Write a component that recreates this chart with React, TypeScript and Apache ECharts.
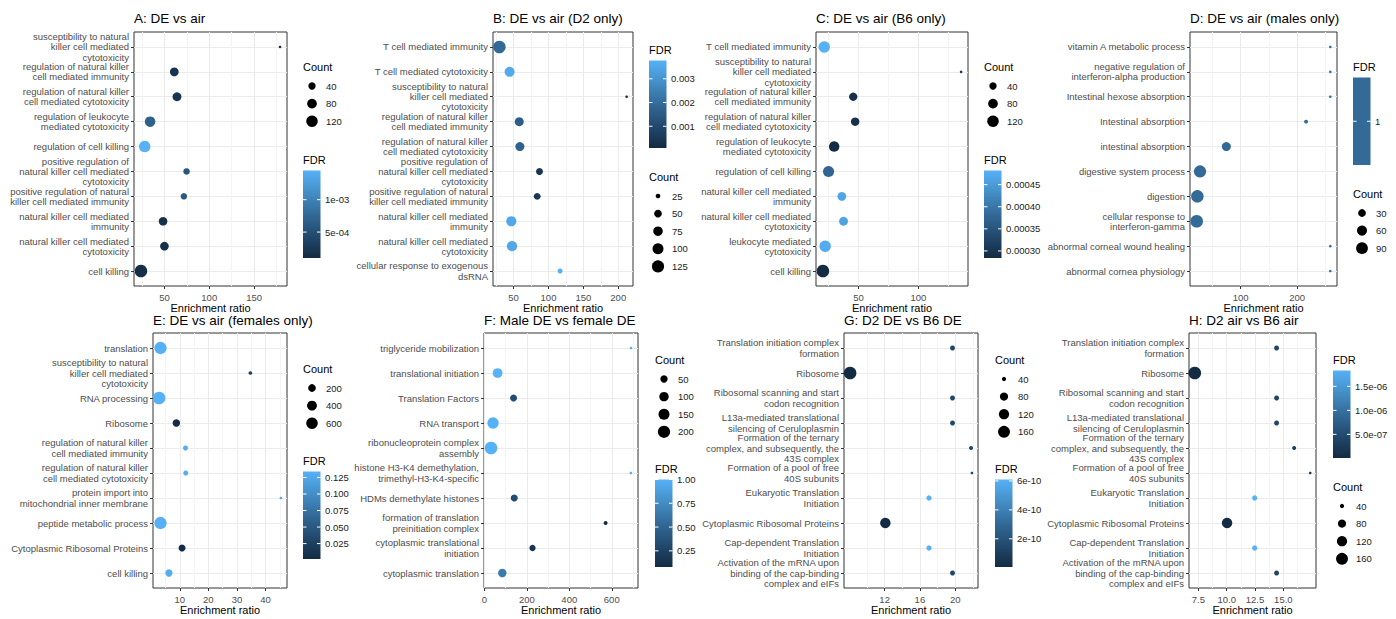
import React, { useEffect, useRef } from "react";
import * as echarts from "echarts";

// ---------- Panel A: DE vs air ----------
const aTitle = "A: DE vs air";
const aTerms = [
  "susceptibility to natural\nkiller cell mediated\ncytotoxicity",
  "regulation of natural killer\ncell mediated immunity",
  "regulation of natural killer\ncell mediated cytotoxicity",
  "regulation of leukocyte\nmediated cytotoxicity",
  "regulation of cell killing",
  "positive regulation of\nnatural killer cell mediated\ncytotoxicity",
  "positive regulation of natural\nkiller cell mediated immunity",
  "natural killer cell mediated\nimmunity",
  "natural killer cell mediated\ncytotoxicity",
  "cell killing",
];
const aRatio = [179, 61, 64, 34, 28, 74.7, 71.7, 48.5, 50, 23.8];
const aCount = [8, 62, 64, 97, 120, 30, 29, 58, 60, 150];
const aFdr = [1.0e-4, 2.0e-4, 2.1e-4, 6.8e-4, 1.45e-3, 5.7e-4, 6.0e-4, 1.6e-4, 1.7e-4, 1.5e-4];
const aXTicks = [50, 100, 150];
const aCountBreaks = [40, 80, 120];
const aFdrBreaks = [1e-3, 5e-4];
const aFdrLabels = ["1e-03", "5e-04"];

// ---------- Panel B: DE vs air (D2 only) ----------
const bTitle = "B: DE vs air (D2 only)";
const bTerms = [
  "T cell mediated immunity",
  "T cell mediated cytotoxicity",
  "susceptibility to natural\nkiller cell mediated\ncytotoxicity",
  "regulation of natural killer\ncell mediated immunity",
  "regulation of natural killer\ncell mediated cytotoxicity",
  "positive regulation of\nnatural killer cell mediated\ncytotoxicity",
  "positive regulation of natural\nkiller cell mediated immunity",
  "natural killer cell mediated\nimmunity",
  "natural killer cell mediated\ncytotoxicity",
  "cellular response to exogenous\ndsRNA",
];
const bRatio = [29.6, 44.3, 212, 58.1, 59, 87.1, 83.8, 46.7, 47.7, 116.6];
const bCount = [135, 83, 20, 67, 68, 42, 41, 86, 87, 27];
const bFdr = [0.0019, 0.0036, 8.5e-5, 0.0016, 0.0017, 0.0004, 0.00045, 0.0035, 0.0035, 0.00377];
const bXTicks = [50, 100, 150, 200];
const bCountBreaks = [25, 50, 75, 100, 125];
const bFdrBreaks = [0.003, 0.002, 0.001];
const bFdrLabels = ["0.003", "0.002", "0.001"];

// ---------- Panel C: DE vs air (B6 only) ----------
const cTitle = "C: DE vs air (B6 only)";
const cTerms = [
  "T cell mediated immunity",
  "susceptibility to natural\nkiller cell mediated\ncytotoxicity",
  "regulation of natural killer\ncell mediated immunity",
  "regulation of natural killer\ncell mediated cytotoxicity",
  "regulation of leukocyte\nmediated cytotoxicity",
  "regulation of cell killing",
  "natural killer cell mediated\nimmunity",
  "natural killer cell mediated\ncytotoxicity",
  "leukocyte mediated\ncytotoxicity",
  "cell killing",
];
const cRatio = [21.4, 135.6, 45.6, 47.2, 29.7, 25, 36.1, 37.5, 22.2, 20.3];
const cCount = [120, 8, 55, 57, 95, 110, 62, 64, 120, 150];
const cFdr = [4.82e-4, 2.95e-4, 2.92e-4, 2.93e-4, 2.86e-4, 3.75e-4, 4.65e-4, 4.62e-4, 4.75e-4, 2.84e-4];
const cXTicks = [50, 100];
const cCountBreaks = [40, 80, 120];
const cFdrBreaks = [0.00045, 0.0004, 0.00035, 0.0003];
const cFdrLabels = ["0.00045", "0.00040", "0.00035", "0.00030"];

// ---------- Panel D: DE vs air (males only) ----------
const dTitle = "D: DE vs air (males only)";
const dTerms = [
  "vitamin A metabolic process",
  "negative regulation of\ninterferon-alpha production",
  "Intestinal hexose absorption",
  "Intestinal absorption",
  "intestinal absorption",
  "digestive system process",
  "digestion",
  "cellular response to\ninterferon-gamma",
  "abnormal corneal wound healing",
  "abnormal cornea physiology",
];
const dRatio = [258.8, 258.8, 258.8, 215.9, 74.8, 28.2, 23.5, 22.3, 258.8, 258.8];
const dCount = [2, 2, 2, 4, 45, 98, 104, 106, 2, 2];
const dFdr = [1, 1, 1, 1, 1, 1, 1, 1, 1, 1];
const dXTicks = [100, 200];
const dCountBreaks = [30, 60, 90];
const dFdrBreaks = [1];
const dFdrLabels = ["1"];

// ---------- Panel E: DE vs air (females only) ----------
const eTitle = "E: DE vs air (females only)";
const eTerms = [
  "translation",
  "susceptibility to natural\nkiller cell mediated\ncytotoxicity",
  "RNA processing",
  "Ribosome",
  "regulation of natural killer\ncell mediated immunity",
  "regulation of natural killer\ncell mediated cytotoxicity",
  "protein import into\nmitochondrial inner membrane",
  "peptide metabolic process",
  "Cytoplasmic Ribosomal Proteins",
  "cell killing",
];
const eRatio = [3.25, 34.7, 2.76, 8.8, 12, 12.1, 45.4, 3.25, 10.8, 6.2];
const eCount = [700, 12, 750, 180, 46, 47, 3, 700, 145, 165];
const eFdr = [0.133, 0.022, 0.134, 0.0017, 0.13, 0.13, 0.13, 0.133, 0.003, 0.13];
const eXTicks = [10, 20, 30, 40];
const eCountBreaks = [200, 400, 600];
const eFdrBreaks = [0.125, 0.1, 0.075, 0.05, 0.025];
const eFdrLabels = ["0.125", "0.100", "0.075", "0.050", "0.025"];

// ---------- Panel F: Male DE vs female DE ----------
const fTitle = "F: Male DE vs female DE";
const fTerms = [
  "triglyceride mobilization",
  "translational initiation",
  "Translation Factors",
  "RNA transport",
  "ribonucleoprotein complex\nassembly",
  "histone H3-K4 demethylation,\ntrimethyl-H3-K4-specific",
  "HDMs demethylate histones",
  "formation of translation\npreinitiation complex",
  "cytoplasmic translational\ninitiation",
  "cytoplasmic translation",
];
const fRatio = [690.6, 62.4, 137.6, 40.8, 31.3, 690, 140.8, 571, 226.8, 84.5];
const fCount = [2, 109, 43, 163, 215, 2, 45, 6, 31, 76];
const fFdr = [1, 1, 0.33, 1, 1, 1, 0.33, 0.08, 0.16, 0.65];
const fXTicks = [0, 200, 400, 600];
const fCountBreaks = [50, 100, 150, 200];
const fFdrBreaks = [1, 0.75, 0.5, 0.25];
const fFdrLabels = ["1.00", "0.75", "0.50", "0.25"];

// ---------- Panels G / H shared terms ----------
const ghTerms = [
  "Translation initiation complex\nformation",
  "Ribosome",
  "Ribosomal scanning and start\ncodon recognition",
  "L13a-mediated translational\nsilencing of Ceruloplasmin",
  "Formation of the ternary\ncomplex, and subsequently, the\n43S complex",
  "Formation of a pool of free\n40S subunits",
  "Eukaryotic Translation\nInitiation",
  "Cytoplasmic Ribosomal Proteins",
  "Cap-dependent Translation\nInitiation",
  "Activation of the mRNA upon\nbinding of the cap-binding\ncomplex and eIFs",
];

// ---------- Panel G: D2 DE vs B6 DE ----------
const gTitle = "G: D2 DE vs B6 DE";
const gRatio = [19.7, 8.08, 19.7, 19.7, 21.8, 21.9, 17.03, 12.08, 17.03, 19.7];
const gCount = [44, 180, 44, 44, 39, 36, 46, 125, 46, 44];
const gFdr = [1.4e-10, 5e-12, 1.4e-10, 1.4e-10, 1.3e-10, 1.3e-10, 6.1e-10, 1e-11, 6.1e-10, 1.4e-10];
const gXTicks = [12, 16, 20];
const gCountBreaks = [40, 80, 120, 160];
const gFdrBreaks = [6e-10, 4e-10, 2e-10];
const gFdrLabels = ["6e-10", "4e-10", "2e-10"];

// ---------- Panel H: D2 air vs B6 air ----------
const hTitle = "H: D2 air vs B6 air";
const hRatio = [14.4, 7.18, 14.4, 14.4, 15.95, 17.37, 12.47, 10.03, 12.47, 14.4];
const hCount = [44, 180, 44, 44, 39, 36, 46, 125, 46, 44];
const hFdr = [4.1e-7, 8e-9, 4.1e-7, 4.1e-7, 3.3e-7, 2.5e-7, 1.83e-6, 1.2e-8, 1.83e-6, 4.1e-7];
const hXTicks = [7.5, 10, 12.5, 15];
const hCountBreaks = [40, 80, 120, 160];
const hFdrBreaks = [1.5e-6, 1.0e-6, 5.0e-7];
const hFdrLabels = ["1.5e-06", "1.0e-06", "5.0e-07"];

// ---------- styling / layout ----------
const FONT = '"Liberation Sans", Arial, Helvetica, sans-serif';
const GRAD = ["#132B43", "#22496D", "#336A98", "#448FC6", "#56B1F7"];
const D_MIN = 2.6;
const D_MAX = 12.6;

type Panel = {
  title: string; terms: string[]; ratio: number[]; count: number[]; fdr: number[];
  xTicks: number[]; xDec: number; countBreaks: number[]; fdrBreaks: number[]; fdrLabels: string[];
  box: number[]; titleY: number; lx: number; countY: number; fdrY: number;
};

const panels: Panel[] = [
  { title: aTitle, terms: aTerms, ratio: aRatio, count: aCount, fdr: aFdr, xTicks: aXTicks, xDec: 0, countBreaks: aCountBreaks, fdrBreaks: aFdrBreaks, fdrLabels: aFdrLabels, box: [134, 32, 287, 286], titleY: 18, lx: 303, countY: 67, fdrY: 160 },
  { title: bTitle, terms: bTerms, ratio: bRatio, count: bCount, fdr: bFdr, xTicks: bXTicks, xDec: 0, countBreaks: bCountBreaks, fdrBreaks: bFdrBreaks, fdrLabels: bFdrLabels, box: [493, 32, 633, 286], titleY: 18, lx: 649, countY: 177, fdrY: 50 },
  { title: cTitle, terms: cTerms, ratio: cRatio, count: cCount, fdr: cFdr, xTicks: cXTicks, xDec: 0, countBreaks: cCountBreaks, fdrBreaks: cFdrBreaks, fdrLabels: cFdrLabels, box: [816, 32, 968, 286], titleY: 18, lx: 984, countY: 67, fdrY: 160 },
  { title: dTitle, terms: dTerms, ratio: dRatio, count: dCount, fdr: dFdr, xTicks: dXTicks, xDec: 0, countBreaks: dCountBreaks, fdrBreaks: dFdrBreaks, fdrLabels: dFdrLabels, box: [1190, 32, 1337, 286], titleY: 18, lx: 1353, countY: 194, fdrY: 67 },
  { title: eTitle, terms: eTerms, ratio: eRatio, count: eCount, fdr: eFdr, xTicks: eXTicks, xDec: 0, countBreaks: eCountBreaks, fdrBreaks: eFdrBreaks, fdrLabels: eFdrLabels, box: [153, 333, 287, 588], titleY: 320, lx: 303, countY: 369, fdrY: 461 },
  { title: fTitle, terms: fTerms, ratio: fRatio, count: fCount, fdr: fFdr, xTicks: fXTicks, xDec: 0, countBreaks: fCountBreaks, fdrBreaks: fFdrBreaks, fdrLabels: fFdrLabels, box: [484, 333, 638, 588], titleY: 320, lx: 655, countY: 360, fdrY: 469 },
  { title: gTitle, terms: ghTerms, ratio: gRatio, count: gCount, fdr: gFdr, xTicks: gXTicks, xDec: 0, countBreaks: gCountBreaks, fdrBreaks: gFdrBreaks, fdrLabels: gFdrLabels, box: [844, 333, 978, 588], titleY: 320, lx: 995, countY: 360, fdrY: 469 },
  { title: hTitle, terms: ghTerms, ratio: hRatio, count: hCount, fdr: hFdr, xTicks: hXTicks, xDec: 1, countBreaks: hCountBreaks, fdrBreaks: hFdrBreaks, fdrLabels: hFdrLabels, box: [1189, 333, 1316, 588], titleY: 320, lx: 1333, countY: 487, fdrY: 360 },
];

function sizeScale(counts: number[]) {
  const lo = Math.min(...counts);
  const hi = Math.max(...counts);
  return (c: number) => D_MIN + (D_MAX - D_MIN) * Math.sqrt(Math.max(0, (c - lo) / (hi - lo)));
}

function txt(x: number, y: number, text: string, size: number, fill: string, align = "left") {
  return { type: "text", x, y, silent: true, style: { text, fill, fontSize: size, fontFamily: FONT, align, verticalAlign: "middle" } };
}

function buildOption() {
  const grid: any[] = [];
  const xAxis: any[] = [];
  const yAxis: any[] = [];
  const series: any[] = [];
  const visualMap: any[] = [];
  const elements: any[] = [];

  panels.forEach((p, i) => {
    const [l, t, r, b] = p.box;
    grid.push({ left: l, top: t, width: r - l, height: b - t, show: true, borderColor: "#333333", borderWidth: 1, backgroundColor: "#ffffff", containLabel: false, outerBoundsMode: "none" });

    const xlo = Math.min(...p.ratio);
    const xhi = Math.max(...p.ratio);
    const pad = (xhi - xlo) * 0.05;
    const xmin = xlo - pad;
    const xmax = xhi + pad;
    const step = p.xTicks[1] - p.xTicks[0];
    const minors: number[] = [];
    for (let k = -1; k < p.xTicks.length + 1; k++) {
      const m = p.xTicks[0] + step * (k + 0.5);
      if (m > xmin && m < xmax) minors.push(m);
    }
    const dec = p.xDec;
    xAxis.push({
      type: "value", gridIndex: i, min: xmin, max: xmax, position: "bottom",
      axisLine: { show: false, onZero: false },
      axisTick: { show: true, inside: false, length: 3, lineStyle: { color: "#333333", width: 1 }, customValues: p.xTicks },
      axisLabel: { customValues: p.xTicks, showMinLabel: true, showMaxLabel: true, formatter: (v: number) => v.toFixed(dec), color: "#4D4D4D", fontSize: 9.5, fontFamily: FONT, margin: 6 },
      splitLine: { show: true, lineStyle: { color: "#EBEBEB", width: 1 } },
      name: "Enrichment ratio", nameLocation: "middle", nameGap: 16,
      nameTextStyle: { color: "#000000", fontSize: 11, fontFamily: FONT },
    });
    xAxis.push({
      type: "value", gridIndex: i, min: xmin, max: xmax, position: "bottom",
      axisLine: { show: false, onZero: false },
      axisTick: { show: false, customValues: minors },
      axisLabel: { show: false, customValues: minors },
      splitLine: { show: true, lineStyle: { color: "#F4F4F4", width: 1 } },
    });

    const n = p.terms.length;
    const ymin = -0.6;
    const ymax = n - 1 + 0.6;
    const idx = p.terms.map((_, k) => k);
    // blank guard labels at both ends so that no real term label is dropped by min/max overlap logic
    const labelVals = [ymin, ...idx, ymax];
    const terms = p.terms;
    yAxis.push({
      type: "value", gridIndex: i, min: ymin, max: ymax, inverse: true,
      axisLine: { show: false, onZero: false },
      axisTick: { show: true, inside: false, length: 3, lineStyle: { color: "#333333", width: 1 }, customValues: idx },
      axisLabel: {
        customValues: labelVals, showMinLabel: false, showMaxLabel: false, hideOverlap: false,
        formatter: (v: number) => (Number.isInteger(v) ? terms[v] ?? "" : ""),
        color: "#4D4D4D", fontSize: 9.5, lineHeight: 10.2, fontFamily: FONT, margin: 5,
      },
      splitLine: { show: true, lineStyle: { color: "#EBEBEB", width: 1 } },
    });

    const sz = sizeScale(p.count);
    series.push({
      type: "scatter", xAxisIndex: 2 * i, yAxisIndex: i, symbol: "circle", silent: true,
      data: p.ratio.map((x, k) => [x, k, p.count[k], p.fdr[k]]),
      symbolSize: (val: number[]) => sz(val[2]),
      itemStyle: { opacity: 1 },
      emphasis: { disabled: true },
    });

    const flo = Math.min(...p.fdr);
    const fhi = Math.max(...p.fdr);
    const flat = flo === fhi;
    visualMap.push({
      type: "continuous", show: false, seriesIndex: i, dimension: 3,
      min: flat ? flo - 1 : flo, max: flat ? fhi + 1 : fhi,
      inRange: { color: GRAD },
    });

    // title
    elements.push(txt(l, p.titleY, p.title, 13.5, "#000000"));

    // Count legend
    const lx = p.lx;
    elements.push(txt(lx, p.countY, "Count", 11, "#000000"));
    p.countBreaks.forEach((c, k) => {
      const cy = p.countY + 19 + k * 17.6;
      elements.push({ type: "circle", silent: true, shape: { cx: lx + 9, cy, r: sz(c) / 2 }, style: { fill: "#000000" } });
      elements.push(txt(lx + 23, cy, String(c), 9.5, "#1A1A1A"));
    });

    // FDR colour bar
    elements.push(txt(lx, p.fdrY, "FDR", 11, "#000000"));
    const bx = lx;
    const by = p.fdrY + 10.5;
    const bw = 17.5;
    const bh = 87.5;
    const fill = flat
      ? GRAD[2]
      : new echarts.graphic.LinearGradient(0, 0, 0, 1, GRAD.slice().reverse().map((c, k) => ({ offset: k / (GRAD.length - 1), color: c })));
    elements.push({ type: "rect", silent: true, shape: { x: bx, y: by, width: bw, height: bh }, style: { fill } });
    p.fdrBreaks.forEach((v, k) => {
      const yy = flat ? by + bh / 2 : by + ((fhi - v) / (fhi - flo)) * bh;
      elements.push({ type: "line", silent: true, shape: { x1: bx, y1: yy, x2: bx + 3.5, y2: yy }, style: { stroke: "#ffffff", lineWidth: 1 } });
      elements.push({ type: "line", silent: true, shape: { x1: bx + bw - 3.5, y1: yy, x2: bx + bw, y2: yy }, style: { stroke: "#ffffff", lineWidth: 1 } });
      elements.push(txt(bx + 22, yy, p.fdrLabels[k], 9.5, "#1A1A1A"));
    });
  });

  return {
    animation: false,
    backgroundColor: "#ffffff",
    textStyle: { fontFamily: FONT },
    grid, xAxis, yAxis, series, visualMap,
    graphic: { elements },
  };
}

export default function App() {
  const ref = useRef<HTMLDivElement>(null);
  useEffect(() => {
    if (!ref.current) return;
    const chart = echarts.init(ref.current, null, { renderer: "svg" });
    chart.setOption(buildOption() as any);
    return () => chart.dispose();
  }, []);
  return <div ref={ref} style={{ position: "absolute", left: 0, top: 0, width: 1396, height: 619, background: "#fff" }} />;
}
